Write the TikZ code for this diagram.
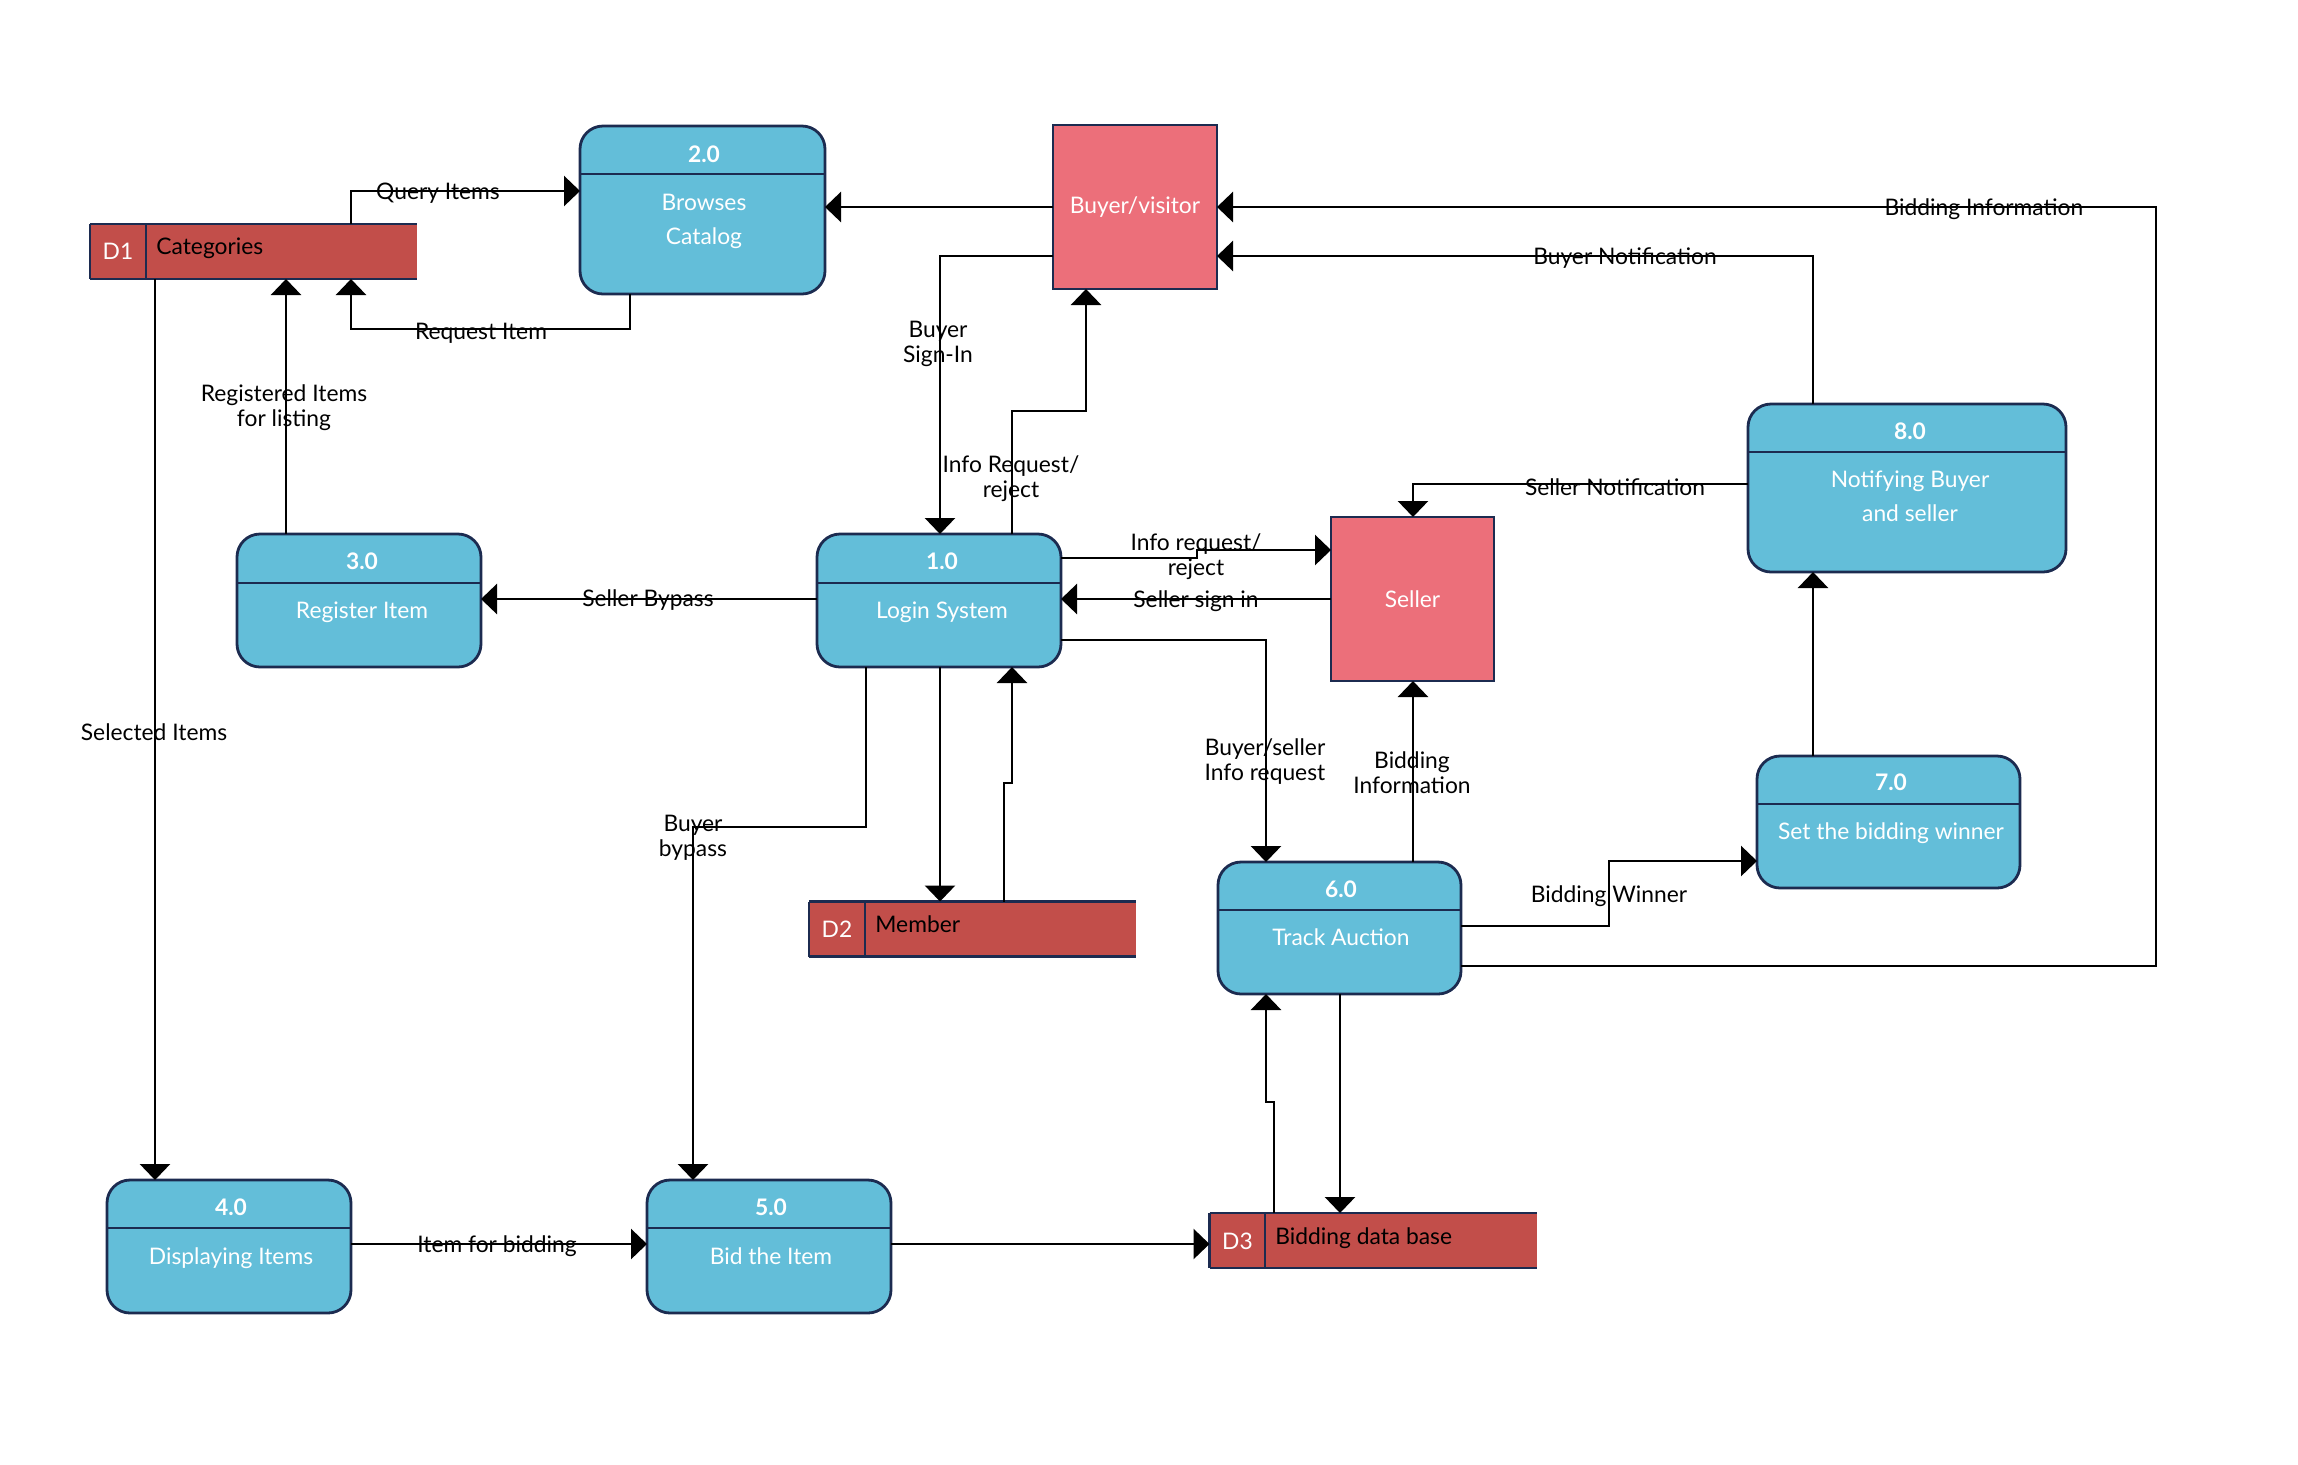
\documentclass[tikz,border=0pt]{standalone}
\usepackage{fontspec}
\setmainfont{Lato}
\usetikzlibrary{arrows.meta}
\definecolor{navy}{HTML}{1C2B50}
\definecolor{procblue}{HTML}{63BED9}
\definecolor{actorpink}{HTML}{EC6F7A}
\definecolor{storered}{HTML}{C24E4A}
\newcommand\lblfont{\fontsize{11.4pt}{12.5pt}\selectfont}
\begin{document}
\begin{tikzpicture}[x=0.5pt,y=-0.5pt,
  proc/.style={draw=navy, fill=procblue, rounded corners=11.5pt, line width=1.4pt, inner sep=0pt, outer sep=0pt},
  actor/.style={draw=navy, fill=actorpink, line width=1.2pt, inner sep=0pt, outer sep=0pt, text=white, font=\lblfont},
  storebg/.style={fill=storered, inner sep=0pt, outer sep=0pt, minimum width=163.5pt, minimum height=27.5pt},
  divline/.style={draw=navy, line width=1.4pt},
  num/.style={text=white, font=\lblfont\bfseries, inner sep=0pt, yshift=-1pt},
  body/.style={text=white, font=\lblfont, inner sep=0pt, text height=0.75em, text depth=0.2em, yshift=-1.5pt},
  stxt/.style={font=\lblfont, inner sep=0pt, text height=0.75em, text depth=0.2em, yshift=-1pt},
  lbl/.style={font=\lblfont, align=center, inner sep=0pt, yshift=-1.2pt},
  flow/.style={line width=1.4pt, black},
  arr/.style={flow, -{Triangle[length=8pt,width=15pt]}}
]
\useasboundingbox (0,0) rectangle (2298,1464);

% ---------- processes ----------
\node[proc, minimum width=122.5pt, minimum height=84pt] (p2) at (702.5,210) {};
\draw[divline] (p2.west |- 0,174) -- (p2.east |- 0,174);
\node[num] (p2n) at (704,152) {2.0};
\node[body] (p2a) at (704,202) {Browses};
\node[body] (p2b) at (704,236) {Catalog};

\node[proc, minimum width=122pt, minimum height=66.5pt] (p1) at (939,600.5) {};
\draw[divline] (p1.west |- 0,583) -- (p1.east |- 0,583);
\node[num] (p1n) at (942,559) {1.0};
\node[body] (p1a) at (942,610) {Login System};

\node[proc, minimum width=122pt, minimum height=66.5pt] (p3) at (359,600.5) {};
\draw[divline] (p3.west |- 0,583) -- (p3.east |- 0,583);
\node[num] (p3n) at (362,559) {3.0};
\node[body] (p3a) at (362,610) {Register Item};

\node[proc, minimum width=122pt, minimum height=66.5pt] (p4) at (229,1246.5) {};
\draw[divline] (p4.west |- 0,1228) -- (p4.east |- 0,1228);
\node[num] (p4n) at (231,1205) {4.0};
\node[body] (p4a) at (231,1256) {Displaying Items};

\node[proc, minimum width=122pt, minimum height=66.5pt] (p5) at (769,1246.5) {};
\draw[divline] (p5.west |- 0,1228) -- (p5.east |- 0,1228);
\node[num] (p5n) at (771,1205) {5.0};
\node[body] (p5a) at (771,1256) {Bid the Item};

\node[proc, minimum width=121.5pt, minimum height=66pt] (p6) at (1339.5,928) {};
\draw[divline] (p6.west |- 0,910) -- (p6.east |- 0,910);
\node[num] (p6n) at (1341,887) {6.0};
\node[body] (p6a) at (1341,937) {Track Auction};

\node[proc, minimum width=131.5pt, minimum height=66pt] (p7) at (1888.5,822) {};
\draw[divline] (p7.west |- 0,804) -- (p7.east |- 0,804);
\node[num] (p7n) at (1891,780) {7.0};
\node[body] (p7a) at (1891,831) {Set the bidding winner};

\node[proc, minimum width=159pt, minimum height=84pt] (p8) at (1907,488) {};
\draw[divline] (p8.west |- 0,452) -- (p8.east |- 0,452);
\node[num] (p8n) at (1910,429) {8.0};
\node[body] (p8a) at (1910,479) {Notifying Buyer};
\node[body] (p8b) at (1910,513) {and seller};

% ---------- external entities ----------
\node[actor, minimum width=82pt, minimum height=82pt] (buyer) at (1135,207) {Buyer/visitor};
\node[actor, minimum width=81.5pt, minimum height=82pt] (seller) at (1412.5,599) {Seller};

% ---------- data stores ----------
\node[storebg] (d1) at (253.5,251.5) {};
\draw[divline] (d1.north west) -- (d1.north east) (d1.south west) -- (d1.south east)
  (d1.north west) -- (d1.south west) (d1.north -| 146,0) -- (d1.south -| 146,0);
\node[stxt, text=white] (d1id) at (118,252) {D1};
\node[stxt, anchor=west] (d1t) at (156,247) {Categories};

\node[storebg] (d2) at (972.5,929) {};
\draw[divline] (d2.north west) -- (d2.north east) (d2.south west) -- (d2.south east)
  (d2.north west) -- (d2.south west) (d2.north -| 865,0) -- (d2.south -| 865,0);
\node[stxt, text=white] (d2id) at (837,930) {D2};
\node[stxt, anchor=west] (d2t) at (875,925) {Member};

\node[storebg] (d3) at (1373,1240.5) {};
\draw[divline] (d3.north west) -- (d3.north east) (d3.south west) -- (d3.south east)
  (d3.north west) -- (d3.south west) (d3.north -| 1265,0) -- (d3.south -| 1265,0);
\node[stxt, text=white] (d3id) at (1237.5,1242) {D3};
\node[stxt, anchor=west] (d3t) at (1275,1237) {Bidding data base};

% ---------- flows ----------
\draw[arr] (d1.north -| 351,0) |- (p2.west |- 0,191);
\draw[arr] (p2.south -| 630,0) -- (630,329) -| (d1.south -| 351,0);
\draw[arr] (p3.north -| 286,0) -- (d1.south -| 286,0);
\draw[arr] (d1.south -| 155,0) -- (p4.north -| 155,0);
\draw[arr] (buyer.west) -- (p2.east |- buyer.west);
\draw[arr] (buyer.west |- 0,256) -| (p1.north -| 940,0);
\draw[arr] (p1.north -| 1012,0) |- (1086,411) -- (buyer.south -| 1086,0);
\draw[arr] (p1.east |- 0,558) -- (1197,558) |- (seller.west |- 0,550);
\draw[arr] (seller.west) -- (p1.east |- seller.west);
\draw[arr] (p1.west |- 0,599) -- (p3.east |- 0,599);
\draw[arr] (p1.east |- 0,640) -| (p6.north -| 1266,0);
\draw[arr] (p6.north -| 1413,0) -- (seller.south -| 1413,0);
\draw[arr] (p8.west |- 0,484) -| (seller.north -| 1413,0);
\draw[arr] (p8.north -| 1813,0) |- (buyer.east |- 0,256);
\draw[arr] (p6.east |- 0,966) -| (2156,207) -- (buyer.east);
\draw[arr] (p7.north -| 1813,0) -- (p8.south -| 1813,0);
\draw[arr] (p6.east |- 0,926) -- (1609,926) |- (p7.west |- 0,861);
\draw[arr] (p6.south -| 1340,0) -- (d3.north -| 1340,0);
\draw[arr] (d3.north -| 1274,0) -- (1274,1102) -- (1266,1102) -- (p6.south -| 1266,0);
\draw[arr] (p1.south -| 940,0) -- (d2.north -| 940,0);
\draw[arr] (d2.north -| 1004,0) -- (1004,783) -- (1012,783) -- (p1.south -| 1012,0);
\draw[arr] (p1.south -| 866,0) |- (693,827) -- (p5.north -| 693,0);
\draw[arr] (p4.east |- 0,1244) -- (p5.west |- 0,1244);
\draw[arr] (p5.east |- 0,1244) -- (d3.west |- 0,1244);

% ---------- flow labels ----------
\node[lbl] (l1) at (438,191) {Query Items};
\node[lbl] (l2) at (481,331) {Request Item};
\node[lbl] (l3) at (284,405) {Registered Items\\for listing};
\node[lbl] (l4) at (154,730) {Selected Items};
\node[lbl] (l5) at (938,341) {Buyer\\Sign-In};
\node[lbl] (l6) at (1011,476) {Info Request/\\reject};
\node[lbl] (l7) at (1196,554) {Info request/\\reject};
\node[lbl] (l8) at (1196,599) {Seller sign in};
\node[lbl] (l9) at (648,598) {Seller Bypass};
\node[lbl] (l10) at (1265,759) {Buyer/seller\\Info request};
\node[lbl] (l11) at (1412,770) {Bidding\\Information};
\node[lbl] (l12) at (1615,485) {Seller Notification};
\node[lbl] (l13) at (1625,256) {Buyer Notification};
\node[lbl] (l14) at (1984,207) {Bidding Information};
\node[lbl] (l15) at (1609,894) {Bidding Winner};
\node[lbl] (l16) at (693,835) {Buyer\\bypass};
\node[lbl] (l17) at (497,1244) {Item for bidding};
\end{tikzpicture}
\end{document}
